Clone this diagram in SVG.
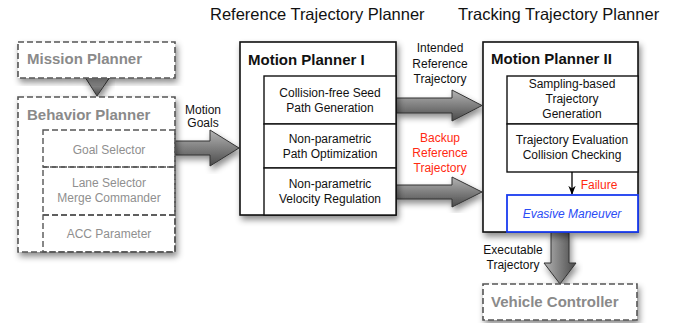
<svg xmlns="http://www.w3.org/2000/svg" width="688" height="323" viewBox="0 0 688 323">
  <defs>
    <filter id="shadow" x="-10%" y="-10%" width="130%" height="130%">
      <feDropShadow dx="2" dy="4" stdDeviation="3" flood-color="#000" flood-opacity="0.45"/>
    </filter>
    <linearGradient id="gradH" x1="0" y1="0" x2="0" y2="1">
      <stop offset="0" stop-color="#b4b4b4"/>
      <stop offset="1" stop-color="#4a4a4a"/>
    </linearGradient>
    <linearGradient id="gradV" x1="0" y1="0" x2="1" y2="0">
      <stop offset="0" stop-color="#b4b4b4"/>
      <stop offset="1" stop-color="#4a4a4a"/>
    </linearGradient>
    <marker id="tip" viewBox="0 0 10 10" refX="9" refY="5" markerWidth="7" markerHeight="7" orient="auto">
      <path d="M0,1 L10,5 L0,9 L3,5 Z" fill="#000"/>
    </marker>
  </defs>
  <style>
    text { font-family: "Liberation Sans", Arial, Helvetica, sans-serif; }
    .hdr { font-size: 16.5px; fill: #111; }
    .title { font-size: 15px; font-weight: bold; fill: #111; }
    .gtitle { font-size: 15px; font-weight: bold; fill: #8a8a8a; }
    .t { font-size: 12px; fill: #111; text-anchor: middle; }
    .gt { font-size: 12px; fill: #8f8f8f; text-anchor: middle; }
    .red { font-size: 12px; fill: #ff2a12; text-anchor: middle; }
    .box { fill: #fff; stroke: #111; stroke-width: 1.6; }
    .dbox { fill: #fff; stroke: #555; stroke-width: 1.6; stroke-dasharray: 6 3; }
    .cell { fill: #fff; stroke: #111; stroke-width: 1.4; }
    .dcell { fill: none; stroke: #555; stroke-width: 1.4; stroke-dasharray: 6 3; }
    .arrowH { fill: url(#gradH); stroke: #333; stroke-width: 1; filter: url(#shadow); }
    .arrowV { fill: url(#gradV); stroke: #333; stroke-width: 1; filter: url(#shadow); }
  </style>

  <!-- column headings -->
  <text class="hdr" x="210" y="20">Reference Trajectory Planner</text>
  <text class="hdr" x="458" y="20">Tracking Trajectory Planner</text>

  <!-- connectors (block arrows) -->
  <g id="connectors">
    <polygon class="arrowH" points="85,77 110,77 97,96"/>
    <polygon class="arrowH" points="175,141 210,141 210,130 239,148 210,166 210,155 175,155"/>
    <polygon class="arrowH" points="396,98 452,98 452,90 482,105.5 452,121 452,113 396,113"/>
    <polygon class="arrowH" points="396,185 452,185 452,177 482,192 452,207 452,199 396,199"/>
    <polygon class="arrowV" points="551,232 569,232 569,263 576,263 560,284 544,263 551,263"/>
  </g>

  <!-- connector labels -->
  <g id="labels">
    <text class="t" x="203" y="114">Motion</text>
    <text class="t" x="203" y="127">Goals</text>
    <text class="t" x="440" y="52">Intended</text>
    <text class="t" x="440" y="68">Reference</text>
    <text class="t" x="440" y="83">Trajectory</text>
    <text class="red" x="440" y="142">Backup</text>
    <text class="red" x="440" y="157">Reference</text>
    <text class="red" x="440" y="172">Trajectory</text>
    <text class="t" x="513" y="254">Executable</text>
    <text class="t" x="513" y="269">Trajectory</text>
  </g>

  <!-- Mission Planner -->
  <g id="mission-planner">
    <rect class="dbox" x="18" y="42" width="157" height="36" filter="url(#shadow)"/>
    <text class="gtitle" x="27" y="64">Mission Planner</text>
  </g>

  <!-- Behavior Planner -->
  <g id="behavior-planner">
    <rect class="dbox" x="18" y="97" width="157" height="155" filter="url(#shadow)"/>
    <text class="gtitle" x="27" y="120">Behavior Planner</text>
    <rect class="dcell" x="43" y="130" width="132" height="37"/>
    <rect class="dcell" x="43" y="167" width="132" height="48"/>
    <rect class="dcell" x="43" y="215" width="132" height="37"/>
    <text class="gt" x="109" y="154">Goal Selector</text>
    <text class="gt" x="109" y="187">Lane Selector</text>
    <text class="gt" x="109" y="202">Merge Commander</text>
    <text class="gt" x="109" y="238">ACC Parameter</text>
  </g>

  <!-- Motion Planner I -->
  <g id="motion-planner-1">
    <rect class="box" x="240" y="42" width="156" height="173" filter="url(#shadow)"/>
    <text class="title" x="248" y="65">Motion Planner I</text>
    <rect class="cell" x="264" y="76" width="132" height="48"/>
    <rect class="cell" x="264" y="124" width="132" height="44"/>
    <rect class="cell" x="264" y="168" width="132" height="47"/>
    <text class="t" x="330" y="97">Collision-free Seed</text>
    <text class="t" x="330" y="112">Path Generation</text>
    <text class="t" x="330" y="143">Non-parametric</text>
    <text class="t" x="330" y="158">Path Optimization</text>
    <text class="t" x="330" y="188">Non-parametric</text>
    <text class="t" x="330" y="203">Velocity Regulation</text>
  </g>

  <!-- Motion Planner II -->
  <g id="motion-planner-2">
    <rect class="box" x="483" y="42" width="155" height="190" filter="url(#shadow)"/>
    <text class="title" x="491" y="64">Motion Planner II</text>
    <rect class="cell" x="507" y="76" width="131" height="48"/>
    <rect class="cell" x="507" y="124" width="131" height="48"/>
    <text class="t" x="572" y="88">Sampling-based</text>
    <text class="t" x="572" y="103">Trajectory</text>
    <text class="t" x="572" y="118">Generation</text>
    <text class="t" x="572" y="144">Trajectory Evaluation</text>
    <text class="t" x="572" y="159">Collision Checking</text>
    <!-- failure hand-off to the evasive maneuver -->
    <line x1="572" y1="172" x2="572" y2="194" stroke="#000" stroke-width="1.3" marker-end="url(#tip)"/>
    <text class="red" x="599" y="189">Failure</text>
    <rect x="507" y="195" width="131" height="37" fill="#fff" stroke="#1a3cf0" stroke-width="1.8"/>
    <text x="572" y="218" font-size="12" font-style="italic" fill="#2a4cf5" text-anchor="middle">Evasive Maneuver</text>
  </g>

  <!-- Vehicle Controller -->
  <g id="vehicle-controller">
    <rect class="dbox" x="483" y="284" width="154" height="36" filter="url(#shadow)"/>
    <text class="gtitle" x="491" y="307">Vehicle Controller</text>
  </g>
</svg>
